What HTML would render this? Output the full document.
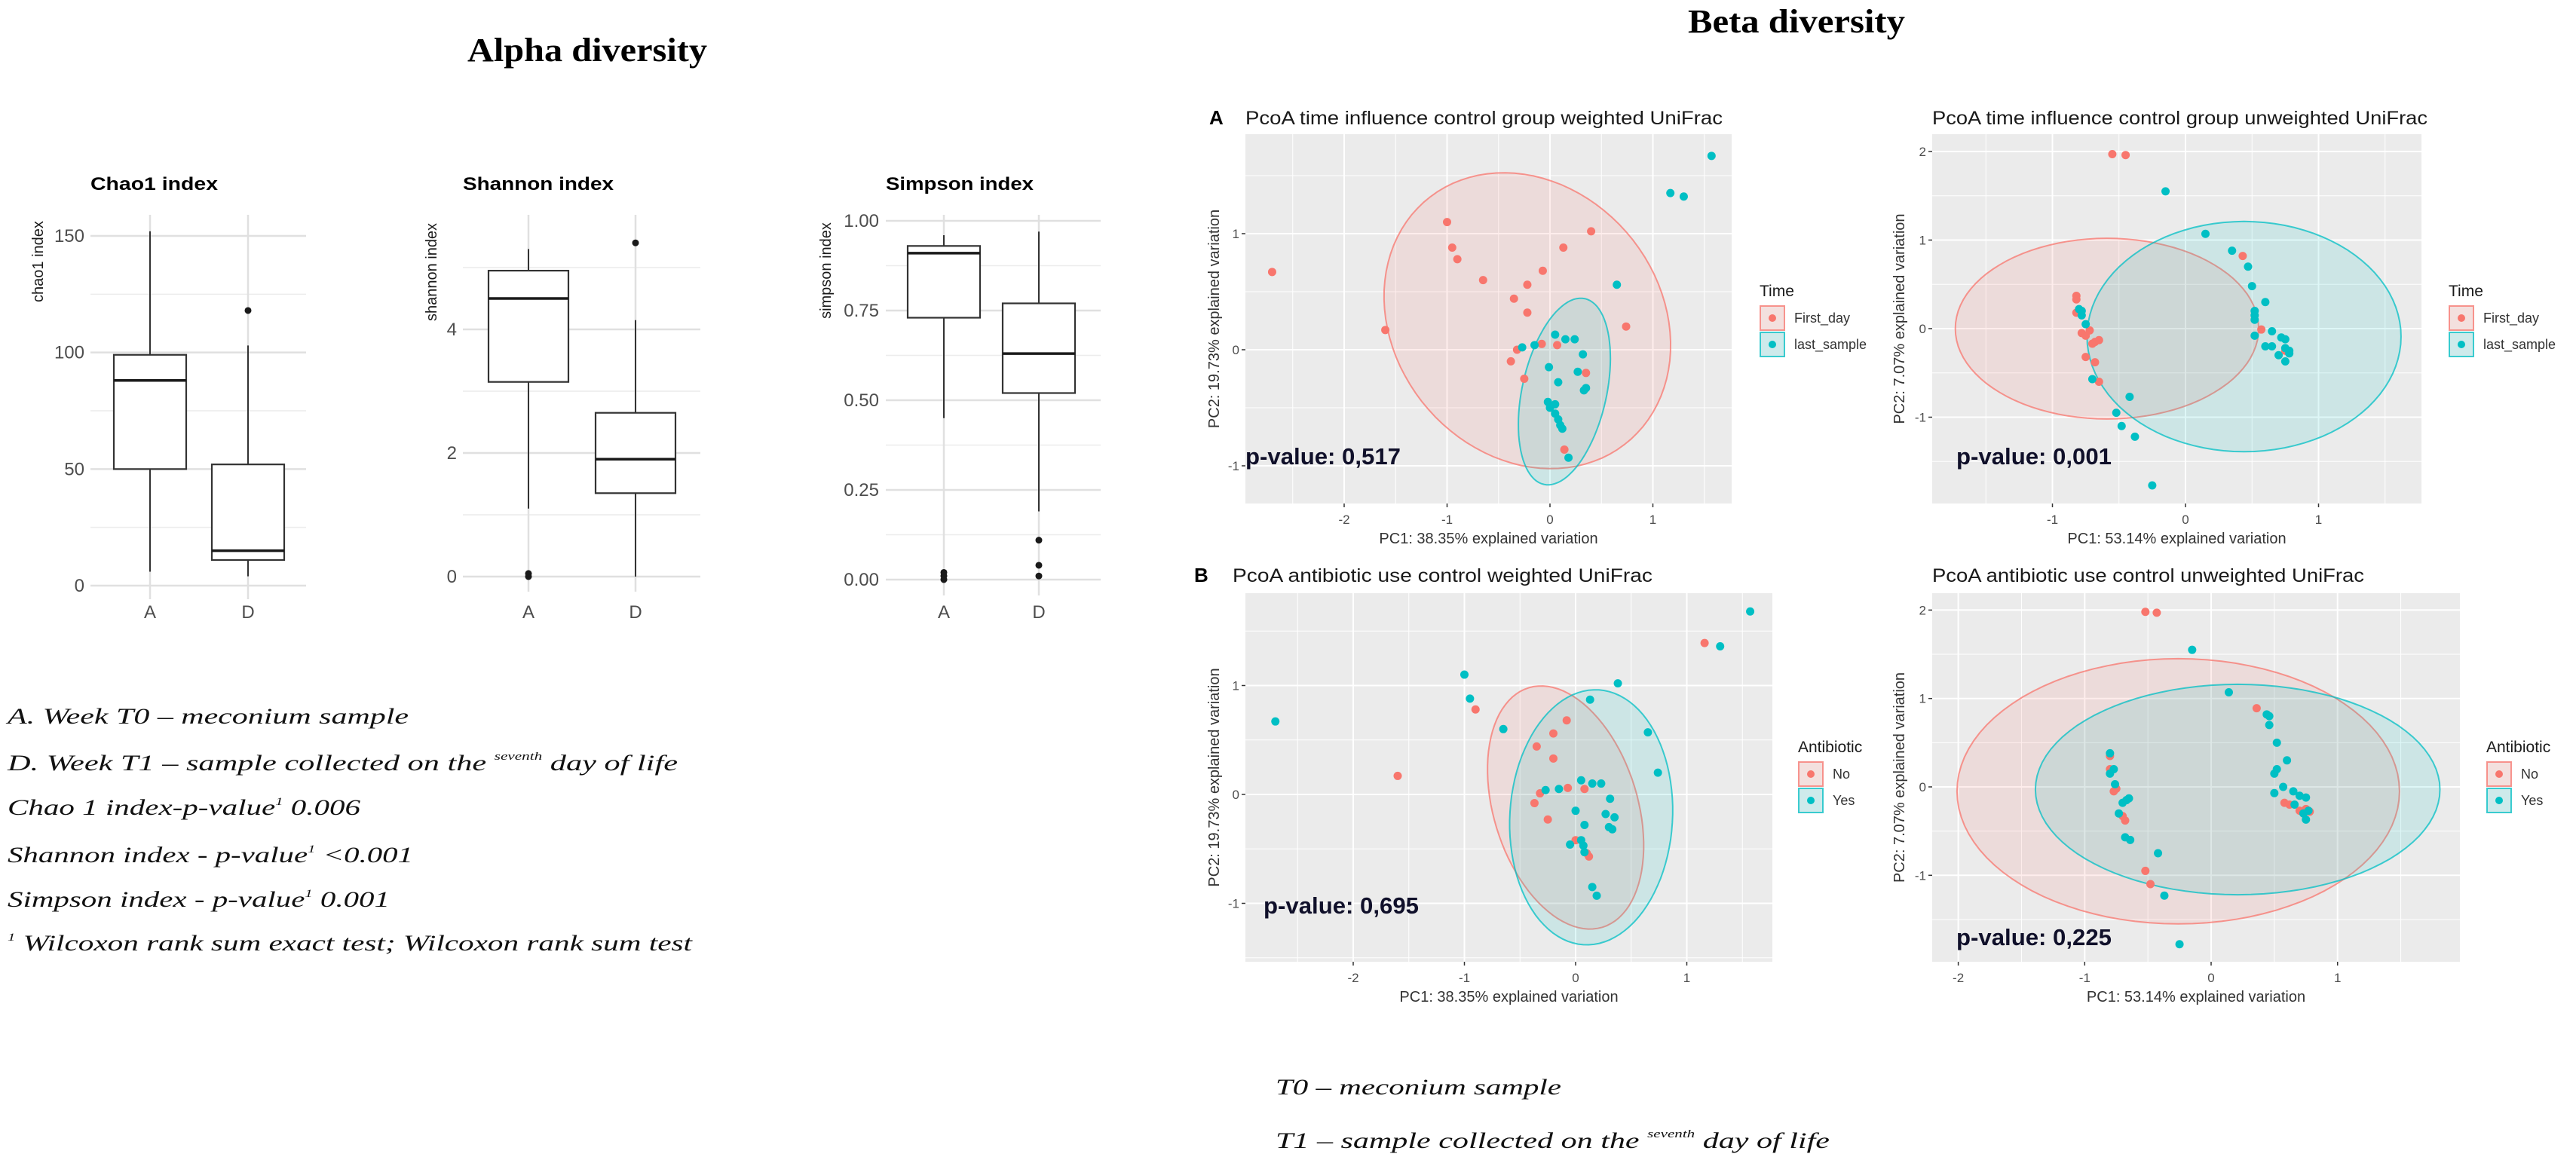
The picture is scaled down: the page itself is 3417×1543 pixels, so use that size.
<!DOCTYPE html>
<html><head><meta charset="utf-8"><title>Alpha and beta diversity</title>
<style>
html,body{margin:0;padding:0;background:#fff;}
svg{display:block;}
.serifT{font-family:"Liberation Serif",serif;font-weight:bold;fill:#000;}
.note{font-family:"Liberation Serif",serif;font-style:italic;fill:#111;}
</style></head>
<body>
<svg id="fig" xmlns="http://www.w3.org/2000/svg" width="3417" height="1543" viewBox="0 0 3417 1543">
<rect x="0" y="0" width="3417" height="1543" fill="#fff"/>
<text class="serifT" x="620" y="81" font-size="44" textLength="318" lengthAdjust="spacingAndGlyphs">Alpha diversity</text>
<text class="serifT" x="2239" y="43" font-size="44" textLength="288" lengthAdjust="spacingAndGlyphs">Beta diversity</text>

<g font-size="30">
<text class="note" x="10" y="960" textLength="532" lengthAdjust="spacingAndGlyphs">A.  Week T0 – meconium sample</text>
<text class="note" x="10" y="1022" textLength="889" lengthAdjust="spacingAndGlyphs">D.  Week T1 – sample collected on the <tspan font-size="15" dy="-14">seventh</tspan><tspan dy="14"> day of life</tspan></text>
<text class="note" x="10" y="1081" textLength="468" lengthAdjust="spacingAndGlyphs">Chao 1 index-p-value<tspan font-size="15" dy="-13">1</tspan><tspan dy="13"> 0.006</tspan></text>
<text class="note" x="10" y="1144" textLength="538" lengthAdjust="spacingAndGlyphs">Shannon index - p-value<tspan font-size="15" dy="-13">1</tspan><tspan dy="13"> &lt;0.001</tspan></text>
<text class="note" x="10" y="1203" textLength="507" lengthAdjust="spacingAndGlyphs">Simpson index - p-value<tspan font-size="15" dy="-13">1</tspan><tspan dy="13"> 0.001</tspan></text>
<text class="note" x="10" y="1261" textLength="908" lengthAdjust="spacingAndGlyphs"><tspan font-size="15" dy="-13">1</tspan><tspan dy="13"> Wilcoxon rank sum exact test; Wilcoxon rank sum test</tspan></text>
</g>
<g font-size="30">
<text class="note" x="1692" y="1452" textLength="379" lengthAdjust="spacingAndGlyphs">T0 – meconium sample</text>
<text class="note" x="1692" y="1523" textLength="735" lengthAdjust="spacingAndGlyphs">T1 – sample collected on the <tspan font-size="15" dy="-14">seventh</tspan><tspan dy="14"> day of life</tspan></text>
</g>
</svg>
<script>
// ---------- Alpha diversity data (five-number summaries: min, Q1, median, Q3, max) ----------
const alphaGroups = ['A', 'D'];
const chao1Stats = [[6, 50, 88, 99, 152], [4, 11, 15, 52, 103]];
const chao1Outliers = [[], [118]];
const chao1Ticks = [0, 50, 100, 150];
const shannonStats = [[1.1, 3.15, 4.5, 4.95, 5.3], [0, 1.35, 1.9, 2.65, 4.15]];
const shannonOutliers = [[0, 0.05], [5.4]];
const shannonTicks = [0, 2, 4];
const simpsonStats = [[0.45, 0.73, 0.91, 0.93, 0.96], [0.19, 0.52, 0.63, 0.77, 0.97]];
const simpsonOutliers = [[0, 0.01, 0.02], [0.01, 0.04, 0.11]];
const simpsonTicks = [0, 0.25, 0.5, 0.75, 1];
const simpsonTickLabels = ['0.00', '0.25', '0.50', '0.75', '1.00'];

// ---------- Beta diversity (PCoA) data: [PC1, PC2] ----------
const timeWeightedFirst = [[-2.7,0.67],[-1.6,0.17],[-1.0,1.1],[-0.95,0.88],[-0.9,0.78],[-0.65,0.6],[-0.35,0.44],[-0.22,0.56],[-0.22,0.32],[-0.07,0.68],[0.13,0.88],[0.4,1.02],[0.74,0.2],[-0.38,-0.1],[-0.32,0.0],[-0.25,-0.25],[-0.08,0.05],[0.07,0.04],[0.35,-0.2],[0.14,-0.86]];
const timeWeightedLast = [[1.57,1.67],[1.17,1.35],[1.3,1.32],[0.65,0.56],[-0.27,0.02],[-0.15,0.04],[0.05,0.13],[0.15,0.09],[0.24,0.09],[0.32,-0.04],[-0.01,-0.15],[0.27,-0.19],[0.08,-0.28],[0.33,-0.35],[0.35,-0.33],[-0.02,-0.45],[0.0,-0.5],[0.05,-0.55],[0.08,-0.6],[0.1,-0.65],[0.12,-0.68],[0.05,-0.47],[0.18,-0.93]];
const timeUnweightedFirst = [[-0.55,1.97],[-0.45,1.96],[-0.82,0.37],[-0.82,0.33],[-0.82,0.18],[-0.78,-0.05],[-0.75,-0.08],[-0.72,-0.02],[-0.7,-0.17],[-0.68,-0.15],[-0.65,-0.13],[-0.75,-0.32],[-0.68,-0.38],[-0.65,-0.6],[0.43,0.82],[0.57,-0.01],[0.75,-0.25]];
const timeUnweightedLast = [[-0.15,1.55],[0.15,1.07],[0.35,0.88],[0.47,0.7],[0.5,0.48],[0.6,0.3],[0.52,0.2],[0.52,0.15],[0.52,0.1],[0.52,-0.08],[0.6,-0.2],[0.65,-0.2],[0.65,-0.03],[0.72,-0.1],[0.75,-0.12],[0.7,-0.3],[0.75,-0.22],[0.78,-0.28],[0.78,-0.25],[0.75,-0.37],[-0.8,0.22],[-0.78,0.2],[-0.78,0.15],[-0.75,0.05],[-0.7,-0.57],[-0.42,-0.77],[-0.52,-0.95],[-0.48,-1.1],[-0.38,-1.22],[-0.25,-1.77]];
const abWeightedNo = [[-1.6,0.17],[-0.9,0.78],[-0.08,0.68],[-0.2,0.56],[-0.35,0.44],[-0.2,0.33],[-0.07,0.06],[0.08,0.05],[-0.32,0.01],[-0.37,-0.08],[-0.25,-0.23],[0.0,-0.42],[0.1,-0.54],[0.12,-0.57],[1.16,1.39]];
const abWeightedYes = [[-2.7,0.67],[-1.0,1.1],[-0.95,0.88],[-0.65,0.6],[0.13,0.87],[0.38,1.02],[0.65,0.57],[0.74,0.2],[1.3,1.36],[1.57,1.68],[0.05,0.13],[0.15,0.1],[0.23,0.1],[-0.27,0.04],[-0.15,0.05],[0.31,-0.04],[0.0,-0.15],[0.27,-0.18],[0.35,-0.21],[0.08,-0.28],[0.3,-0.3],[0.33,-0.32],[-0.05,-0.46],[0.05,-0.42],[0.07,-0.47],[0.08,-0.53],[0.15,-0.85],[0.19,-0.93]];
const abUnweightedNo = [[-0.52,1.98],[-0.43,1.97],[-0.8,0.35],[-0.8,0.2],[-0.77,-0.05],[-0.75,-0.02],[-0.7,-0.33],[-0.68,-0.38],[-0.52,-0.95],[-0.48,-1.1],[0.36,0.89],[0.58,-0.18],[0.62,-0.2],[0.7,-0.27],[0.75,-0.25],[0.78,-0.28]];
const abUnweightedYes = [[-0.15,1.55],[0.14,1.07],[0.44,0.82],[0.46,0.8],[0.46,0.7],[0.52,0.5],[0.6,0.3],[0.52,0.2],[0.5,0.15],[0.57,0.0],[0.5,-0.07],[0.65,-0.05],[0.7,-0.1],[0.75,-0.12],[0.66,-0.2],[0.75,-0.37],[0.77,-0.27],[0.73,-0.3],[-0.8,0.38],[-0.8,0.15],[-0.77,0.2],[-0.76,0.03],[-0.7,-0.18],[-0.67,-0.15],[-0.65,-0.13],[-0.73,-0.3],[-0.68,-0.57],[-0.64,-0.6],[-0.42,-0.75],[-0.37,-1.23],[-0.25,-1.78]];
// ellipses: [centre PC1, centre PC2, axis1 dPC1, axis1 dPC2, axis2 dPC1, axis2 dPC2]
const timeWeightedEllipses = [[-0.22,0.25,-0.8,1.15,1.14,0.55],[0.14,-0.36,0.2,0.8,0.40,-0.08]];
const timeUnweightedEllipses = [[-0.59,0,1.14,0,0,1.02],[0.44,-0.09,1.18,0,0,1.30]];
const abWeightedEllipses = [[-0.09,-0.12,-0.33,1.1,0.62,0.19],[0.14,-0.21,0.07,1.17,0.73,-0.05]];
const abUnweightedEllipses = [[-0.26,-0.05,1.75,0,0,1.5],[0.21,-0.03,1.6,0,0,1.19]];
const pValues = ['0,517', '0,001', '0,695', '0,225'];

const svg = document.getElementById('fig');
function mk(tag, attrs, parent) {
  const e = document.createElementNS(svg.namespaceURI, tag);
  for (const k in attrs) e.setAttribute(k, attrs[k]);
  (parent || svg).appendChild(e);
  return e;
}
function lin(d0, d1, r0, r1) { return v => r0 + (v - d0) / (d1 - d0) * (r1 - r0); }

// ---------- Alpha box plots ----------
function boxPanel(cfg) {
  const g = mk('g', {});
  
  
  const y = cfg.y;
  cfg.minor.forEach(v => {
    const l = mk('line', {x1: cfg.x0, x2: cfg.x1, y1: y(v), y2: y(v), stroke: '#ececec', 'stroke-width': 1.5}, g);
    
    
  });
  cfg.ticks.forEach((v, i) => {
    const l = mk('line', {x1: cfg.x0, x2: cfg.x1, y1: y(v), y2: y(v), stroke: '#e0e0e0', 'stroke-width': 2.5}, g);
    
    
    const t = mk('text', {x: cfg.labelX, y: y(v) + 8, 'text-anchor': 'end', 'font-size': 24, fill: '#4d4d4d', 'font-family': 'Liberation Sans, sans-serif'}, g);
    t.textContent = cfg.labels ? cfg.labels[i] : String(v);
    
    
  });
  alphaGroups.forEach((grp, i) => {
    const cx = cfg.xs[i];
    const vl = mk('line', {x1: cx, x2: cx, y1: cfg.top, y2: cfg.bottom, stroke: '#e0e0e0', 'stroke-width': 2.5}, g);
    
    
    const s = cfg.stats[i];
    const w1 = mk('line', {x1: cx, x2: cx, y1: y(s[0]), y2: y(s[1]), stroke: '#333', 'stroke-width': 2}, g);
    
    
    const w2 = mk('line', {x1: cx, x2: cx, y1: y(s[3]), y2: y(s[4]), stroke: '#333', 'stroke-width': 2}, g);
    
    
    const r = mk('rect', {x: cx - cfg.hw, y: y(s[3]), width: 2 * cfg.hw, height: y(s[1]) - y(s[3]), fill: '#fff', stroke: '#333', 'stroke-width': 2.2}, g);
    
    
    const m = mk('line', {x1: cx - cfg.hw, x2: cx + cfg.hw, y1: y(s[2]), y2: y(s[2]), stroke: '#1a1a1a', 'stroke-width': 3.5}, g);
    
    
    cfg.out[i].forEach(v => {
      const c = mk('circle', {cx: cx, cy: y(v), r: 4.5, fill: '#1a1a1a'}, g);
      
      
    });
    const xl = mk('text', {x: cx, y: 820, 'text-anchor': 'middle', 'font-size': 24, fill: '#4d4d4d', 'font-family': 'Liberation Sans, sans-serif'}, g);
    xl.textContent = grp;
    
    
  });
  const tt = mk('text', {x: cfg.x0, y: 252, 'font-size': 24, 'font-weight': 'bold', fill: '#000', 'font-family': 'Liberation Sans, sans-serif', textLength: cfg.titleW, lengthAdjust: 'spacingAndGlyphs'}, g);
  tt.textContent = cfg.title;
  
  
  const yt = mk('text', {x: 0, y: 0, 'text-anchor': 'middle', 'font-size': 20, fill: '#1a1a1a', 'font-family': 'Liberation Sans, sans-serif', transform: 'translate(' + cfg.ytX + ',' + cfg.ytY + ') rotate(-90)'}, g);
  yt.textContent = cfg.ytitle;
  
  
}
boxPanel({name: 'chao1-boxplot', title: 'Chao1 index', titleW: 169, ytitle: 'chao1 index', ytX: 57, ytY: 347,
  x0: 120, x1: 406, xs: [199, 329], hw: 48, top: 285, bottom: 795, labelX: 112,
  y: lin(0, 150, 777, 313), ticks: chao1Ticks, minor: [25, 75, 125], stats: chao1Stats, out: chao1Outliers});
boxPanel({name: 'shannon-boxplot', title: 'Shannon index', titleW: 200, ytitle: 'shannon index', ytX: 579, ytY: 361,
  x0: 614, x1: 929, xs: [701, 843], hw: 53, top: 285, bottom: 785, labelX: 606,
  y: lin(0, 4, 765, 437), ticks: shannonTicks, minor: [1, 3, 5], stats: shannonStats, out: shannonOutliers});
boxPanel({name: 'simpson-boxplot', title: 'Simpson index', titleW: 196, ytitle: 'simpson index', ytX: 1102, ytY: 359,
  x0: 1175, x1: 1460, xs: [1252, 1378], hw: 48, top: 285, bottom: 790, labelX: 1166,
  y: lin(0, 1, 769, 293), ticks: simpsonTicks, labels: simpsonTickLabels, minor: [0.125, 0.375, 0.625, 0.875], stats: simpsonStats, out: simpsonOutliers});

// ---------- PCoA panels ----------
const RED = '#F8766D', CYAN = '#00BFC4';
function pcoa(cfg) {
  const g = mk('g', {});
  
  
  const X = lin(0, 1, cfg.x0p, cfg.x0p + cfg.xu);
  const Y = lin(0, 1, cfg.y0p, cfg.y0p - cfg.yu);
  const bg = mk('rect', {x: cfg.px0, y: cfg.py0, width: cfg.px1 - cfg.px0, height: cfg.py1 - cfg.py0, fill: '#ebebeb'}, g);
  
  
  const dx0 = (cfg.px0 - cfg.x0p) / cfg.xu, dx1 = (cfg.px1 - cfg.x0p) / cfg.xu;
  const dy0 = (cfg.y0p - cfg.py1) / cfg.yu, dy1 = (cfg.y0p - cfg.py0) / cfg.yu;
  for (let v = Math.ceil(dx0 * 2) / 2; v <= dx1; v += 0.5) {
    const major = Math.abs(v - Math.round(v)) < 1e-6;
    const l = mk('line', {x1: X(v), x2: X(v), y1: cfg.py0, y2: cfg.py1, stroke: '#fff', 'stroke-width': major ? 2 : 1}, g);
    
    
  }
  for (let v = Math.ceil(dy0 * 2) / 2; v <= dy1; v += 0.5) {
    const major = Math.abs(v - Math.round(v)) < 1e-6;
    const l = mk('line', {x1: cfg.px0, x2: cfg.px1, y1: Y(v), y2: Y(v), stroke: '#fff', 'stroke-width': major ? 2 : 1}, g);
    
    
  }
  cfg.xticks.forEach(v => {
    const tk = mk('line', {x1: X(v), x2: X(v), y1: cfg.py1, y2: cfg.py1 + 5, stroke: '#333', 'stroke-width': 1.5}, g);
    
    
    const t = mk('text', {x: X(v), y: cfg.py1 + 27, 'text-anchor': 'middle', 'font-size': 17, fill: '#4d4d4d', 'font-family': 'Liberation Sans, sans-serif'}, g);
    t.textContent = String(v);
    
    
  });
  cfg.yticks.forEach(v => {
    const tk = mk('line', {x1: cfg.px0 - 5, x2: cfg.px0, y1: Y(v), y2: Y(v), stroke: '#333', 'stroke-width': 1.5}, g);
    
    
    const t = mk('text', {x: cfg.px0 - 8, y: Y(v) + 6, 'text-anchor': 'end', 'font-size': 17, fill: '#4d4d4d', 'font-family': 'Liberation Sans, sans-serif'}, g);
    t.textContent = String(v);
    
    
  });
  const cols = [RED, CYAN];
  cfg.ellipses.forEach((e, i) => {
    let d = '';
    for (let k = 0; k <= 96; k++) {
      const t = k / 96 * 2 * Math.PI;
      const px = X(e[0] + e[2] * Math.cos(t) + e[4] * Math.sin(t));
      const py = Y(e[1] + e[3] * Math.cos(t) + e[5] * Math.sin(t));
      d += (k ? 'L' : 'M') + px.toFixed(1) + ',' + py.toFixed(1);
    }
    const p = mk('path', {d: d + 'Z', fill: cols[i], 'fill-opacity': 0.13, stroke: cols[i], 'stroke-width': 2, 'stroke-opacity': 0.75}, g);
    
    
  });
  [cfg.s1, cfg.s2].forEach((pts, i) => {
    pts.forEach(pt => {
      const c = mk('circle', {cx: X(pt[0]), cy: Y(pt[1]), r: 5.5, fill: cols[i]}, g);
      
      
    });
  });
  const tt = mk('text', {x: cfg.titleX, y: cfg.titleY, 'font-size': 25, fill: '#1a1a1a', 'font-family': 'Liberation Sans, sans-serif', textLength: cfg.titleW, lengthAdjust: 'spacingAndGlyphs'}, g);
  tt.textContent = cfg.title;
  
  
  if (cfg.tag) {
    const tg = mk('text', {x: cfg.tagX, y: cfg.titleY, 'font-size': 26, 'font-weight': 'bold', fill: '#000', 'font-family': 'Liberation Sans, sans-serif'}, g);
    tg.textContent = cfg.tag;
    
    
  }
  const xt = mk('text', {x: (cfg.px0 + cfg.px1) / 2, y: cfg.py1 + 53, 'text-anchor': 'middle', 'font-size': 20, fill: '#333', 'font-family': 'Liberation Sans, sans-serif'}, g);
  xt.textContent = cfg.xtitle;
  
  
  const yt = mk('text', {x: 0, y: 0, 'text-anchor': 'middle', 'font-size': 20, fill: '#333', 'font-family': 'Liberation Sans, sans-serif', transform: 'translate(' + cfg.ytX + ',' + ((cfg.py0 + cfg.py1) / 2) + ') rotate(-90)'}, g);
  yt.textContent = cfg.ytitle;
  
  
  const pv = mk('text', {x: cfg.pvX, y: cfg.pvY, 'font-size': 31, 'font-weight': 'bold', fill: '#10102a', 'font-family': 'Liberation Sans, sans-serif', textLength: 206, lengthAdjust: 'spacingAndGlyphs'}, g);
  pv.textContent = 'p-value: ' + cfg.p;
  
  
  // legend
  const lg = mk('g', {}, g);
  
  
  const lt = mk('text', {x: cfg.lx, y: cfg.ly, 'font-size': 21, fill: '#1a1a1a', 'font-family': 'Liberation Sans, sans-serif'}, lg);
  lt.textContent = cfg.legendTitle;
  
  
  cfg.groups.forEach((name, i) => {
    const ky = cfg.ly + 12 + i * 35;
    const kb = mk('rect', {x: cfg.lx, y: ky, width: 34, height: 34, fill: '#f2f2f2'}, lg);
    
    
    const kr = mk('rect', {x: cfg.lx + 1, y: ky + 1, width: 32, height: 32, fill: cols[i], 'fill-opacity': 0.15, stroke: cols[i], 'stroke-width': 2, 'stroke-opacity': 0.75}, lg);
    
    
    const kc = mk('circle', {cx: cfg.lx + 17, cy: ky + 17, r: 5, fill: cols[i]}, lg);
    
    
    const kt = mk('text', {x: cfg.lx + 46, y: ky + 23, 'font-size': 18, fill: '#333', 'font-family': 'Liberation Sans, sans-serif'}, lg);
    kt.textContent = name;
    
    
  });
}
pcoa({name: 'pcoa-time-weighted', tag: 'A', tagX: 1604, title: 'PcoA time  influence control group weighted UniFrac', titleX: 1652, titleY: 165, titleW: 633,
  px0: 1652, px1: 2297, py0: 178, py1: 668, x0p: 2056, xu: 136.5, y0p: 464, yu: 154,
  xticks: [-2, -1, 0, 1], yticks: [-1, 0, 1], xtitle: 'PC1: 38.35% explained variation', ytitle: 'PC2: 19.73% explained variation', ytX: 1617,
  s1: timeWeightedFirst, s2: timeWeightedLast, ellipses: timeWeightedEllipses, groups: ['First_day', 'last_sample'], legendTitle: 'Time',
  lx: 2334, ly: 393, pvX: 1652, pvY: 616, p: pValues[0]});
pcoa({name: 'pcoa-time-unweighted', title: 'PcoA time influence control group unweighted UniFrac', titleX: 2563, titleY: 165, titleW: 657,
  px0: 2563, px1: 3212, py0: 178, py1: 668, x0p: 2899, xu: 176.5, y0p: 436, yu: 117.5,
  xticks: [-1, 0, 1], yticks: [-1, 0, 1, 2], xtitle: 'PC1: 53.14% explained variation', ytitle: 'PC2: 7.07% explained variation', ytX: 2526,
  s1: timeUnweightedFirst, s2: timeUnweightedLast, ellipses: timeUnweightedEllipses, groups: ['First_day', 'last_sample'], legendTitle: 'Time',
  lx: 3248, ly: 393, pvX: 2595, pvY: 616, p: pValues[1]});
pcoa({name: 'pcoa-antibiotic-weighted', tag: 'B', tagX: 1584, title: 'PcoA antibiotic use control weighted UniFrac', titleX: 1635, titleY: 772, titleW: 557,
  px0: 1652, px1: 2351, py0: 787, py1: 1276, x0p: 2090, xu: 147.5, y0p: 1054, yu: 144.5,
  xticks: [-2, -1, 0, 1], yticks: [-1, 0, 1], xtitle: 'PC1: 38.35% explained variation', ytitle: 'PC2: 19.73% explained variation', ytX: 1617,
  s1: abWeightedNo, s2: abWeightedYes, ellipses: abWeightedEllipses, groups: ['No', 'Yes'], legendTitle: 'Antibiotic',
  lx: 2385, ly: 998, pvX: 1676, pvY: 1212, p: pValues[2]});
pcoa({name: 'pcoa-antibiotic-unweighted', title: 'PcoA antibiotic use control unweighted UniFrac', titleX: 2563, titleY: 772, titleW: 573,
  px0: 2563, px1: 3263, py0: 787, py1: 1276, x0p: 2933, xu: 167.7, y0p: 1044, yu: 117.3,
  xticks: [-2, -1, 0, 1], yticks: [-1, 0, 1, 2], xtitle: 'PC1: 53.14% explained variation', ytitle: 'PC2: 7.07% explained variation', ytX: 2526,
  s1: abUnweightedNo, s2: abUnweightedYes, ellipses: abUnweightedEllipses, groups: ['No', 'Yes'], legendTitle: 'Antibiotic',
  lx: 3298, ly: 998, pvX: 2595, pvY: 1254, p: pValues[3]});
</script>
</body></html>
